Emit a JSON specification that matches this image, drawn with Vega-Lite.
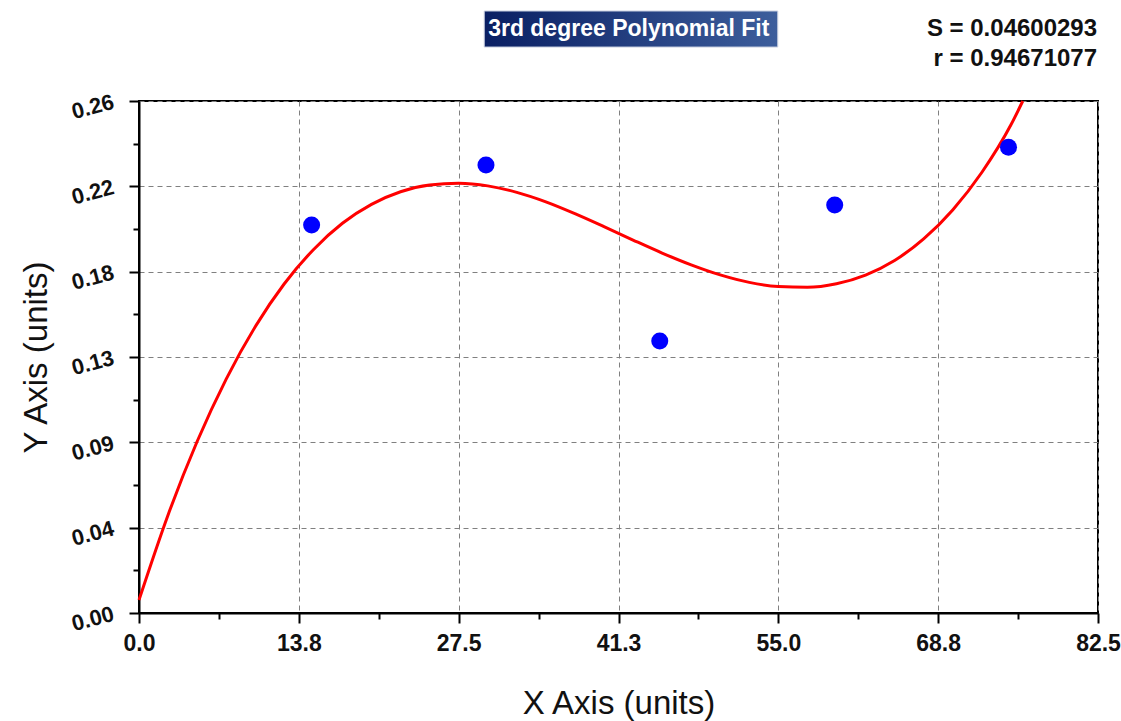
{
  "$schema": "https://vega.github.io/schema/vega-lite/v6.json",
  "width": 959,
  "height": 512,
  "autosize": "none",
  "padding": {"left": 139, "top": 101, "right": 23, "bottom": 108},
  "background": "white",
  "config": {
    "view": {"stroke": "#000000", "strokeWidth": 2},
    "axis": {
      "domainColor": "#000000",
      "domainWidth": 2,
      "tickColor": "#000000",
      "tickWidth": 2,
      "gridColor": "#808080",
      "gridDash": [5, 4],
      "gridWidth": 1,
      "labelFont": "Liberation Sans",
      "labelFontWeight": "bold",
      "labelFontSize": 23,
      "labelColor": "#111111",
      "titleFont": "Liberation Sans",
      "titleFontWeight": "normal",
      "titleFontSize": 33,
      "titleColor": "#111111",
      "labelOverlap": false,
      "labelFlush": false
    }
  },
  "datasets": {
    "curve": [
      {"x": 0, "y": 0.0066},
      {"x": 2.5, "y": 0.0498},
      {"x": 5, "y": 0.0871},
      {"x": 7.5, "y": 0.1188},
      {"x": 10, "y": 0.1454},
      {"x": 12.5, "y": 0.1672},
      {"x": 15, "y": 0.1845},
      {"x": 17.5, "y": 0.1979},
      {"x": 20, "y": 0.2075},
      {"x": 22.5, "y": 0.2139},
      {"x": 25, "y": 0.2173},
      {"x": 27.5, "y": 0.2182},
      {"x": 30, "y": 0.2169},
      {"x": 32.5, "y": 0.2136},
      {"x": 35, "y": 0.2088},
      {"x": 37.5, "y": 0.2028},
      {"x": 40, "y": 0.1962},
      {"x": 42.5, "y": 0.1894},
      {"x": 45, "y": 0.1828},
      {"x": 47.5, "y": 0.1768},
      {"x": 50, "y": 0.1717},
      {"x": 52.5, "y": 0.1679},
      {"x": 55, "y": 0.1658},
      {"x": 57.5, "y": 0.1654},
      {"x": 60, "y": 0.1672},
      {"x": 62.5, "y": 0.1716},
      {"x": 65, "y": 0.179},
      {"x": 67.5, "y": 0.19},
      {"x": 70, "y": 0.2047},
      {"x": 72.5, "y": 0.2237},
      {"x": 75, "y": 0.2478},
      {"x": 76.03, "y": 0.26}
    ],
    "points": [
      {"x": 14.85, "y": 0.197},
      {"x": 29.85, "y": 0.2275},
      {"x": 44.8, "y": 0.1381},
      {"x": 59.85, "y": 0.2072},
      {"x": 74.8, "y": 0.2365}
    ]
  },
  "layer": [
    {
      "data": {"name": "curve"},
      "mark": {"type": "line", "color": "#ff0000", "strokeWidth": 3, "interpolate": "monotone"},
      "encoding": {
        "x": {
          "field": "x",
          "type": "quantitative",
          "scale": {"domain": [0, 82.5], "nice": false, "zero": false},
          "axis": {
            "title": "X Axis (units)",
            "titleY": 90,
            "titleBaseline": "middle",
            "values": [0, 3.4375, 6.875, 10.3125, 13.75, 17.1875, 20.625, 24.0625, 27.5, 30.9375, 34.375, 37.8125, 41.25, 44.6875, 48.125, 51.5625, 55, 58.4375, 61.875, 65.3125, 68.75, 72.1875, 75.625, 79.0625, 82.5],
            "labelExpr": "abs(datum.value/13.75 - round(datum.value/13.75)) < 0.01 ? format(datum.value, '.1f') : ''",
            "labelPadding": 9,
            "tickSize": {"condition": {"test": "abs(datum.value/13.75 - round(datum.value/13.75)) < 0.01", "value": 10}, "value": 6},
            "gridOpacity": {"condition": {"test": "abs(datum.value/13.75 - round(datum.value/13.75)) < 0.01", "value": 1}, "value": 0}
          }
        },
        "y": {
          "field": "y",
          "type": "quantitative",
          "scale": {"domain": [0, 0.26], "nice": false, "zero": false},
          "axis": {
            "title": "Y Axis (units)",
            "titleX": -103,
            "titleY": 256,
            "titleAngle": -90,
            "titleAlign": "center",
            "titleBaseline": "middle",
            "values": [0, 0.0108333, 0.0216667, 0.0325, 0.0433333, 0.0541667, 0.065, 0.0758333, 0.0866667, 0.0975, 0.1083333, 0.1191667, 0.13, 0.1408333, 0.1516667, 0.1625, 0.1733333, 0.1841667, 0.195, 0.2058333, 0.2166667, 0.2275, 0.2383333, 0.2491667, 0.26],
            "labelExpr": "abs(datum.value/0.0433333 - round(datum.value/0.0433333)) < 0.01 ? ['0.00','0.04','0.09','0.13','0.18','0.22','0.26'][round(datum.value/0.0433333)] : ''",
            "labelAngle": -15,
            "labelAlign": "right",
            "labelBaseline": "middle",
            "labelFontSize": 22,
            "labelPadding": 16,
            "tickSize": {"condition": {"test": "abs(datum.value/0.0433333 - round(datum.value/0.0433333)) < 0.01", "value": 10}, "value": 6},
            "gridOpacity": {"condition": {"test": "abs(datum.value/0.0433333 - round(datum.value/0.0433333)) < 0.01", "value": 1}, "value": 0}
          }
        }
      }
    },
    {
      "data": {"name": "points"},
      "mark": {"type": "circle", "color": "#0000ff", "opacity": 1, "size": 290},
      "encoding": {
        "x": {"field": "x", "type": "quantitative"},
        "y": {"field": "y", "type": "quantitative"}
      }
    },
    {
      "data": {"values": [{"label": "3rd degree Polynomial Fit"}]},
      "mark": {
        "type": "rect",
        "fill": {
          "gradient": "linear",
          "x1": 0, "y1": 0, "x2": 1, "y2": 0,
          "stops": [
            {"offset": 0, "color": "#0a1f63"},
            {"offset": 1, "color": "#3d5e9c"}
          ]
        },
        "stroke": "#c8cfe0",
        "strokeWidth": 1
      },
      "encoding": {
        "x": {"datum": 29.7, "type": "quantitative"},
        "x2": {"datum": 54.95},
        "y": {"datum": 0.3057, "type": "quantitative"},
        "y2": {"datum": 0.2874}
      }
    },
    {
      "data": {"values": [{"label": "3rd degree Polynomial Fit"}]},
      "mark": {
        "type": "text",
        "color": "#ffffff",
        "font": "Liberation Sans",
        "fontWeight": "bold",
        "fontSize": 23,
        "align": "center",
        "baseline": "middle"
      },
      "encoding": {
        "x": {"datum": 42.13, "type": "quantitative"},
        "y": {"datum": 0.2966, "type": "quantitative"},
        "text": {"field": "label", "type": "nominal"}
      }
    },
    {
      "data": {"values": [{"label": "S = 0.04600293\nr = 0.94671077"}]},
      "mark": {
        "type": "text",
        "color": "#111111",
        "font": "Liberation Sans",
        "fontWeight": "bold",
        "fontSize": 24,
        "align": "right",
        "baseline": "middle",
        "lineBreak": "\n",
        "lineHeight": 30
      },
      "encoding": {
        "x": {"datum": 82.42, "type": "quantitative"},
        "y": {"datum": 0.2966, "type": "quantitative"},
        "text": {"field": "label", "type": "nominal"}
      }
    }
  ]
}
